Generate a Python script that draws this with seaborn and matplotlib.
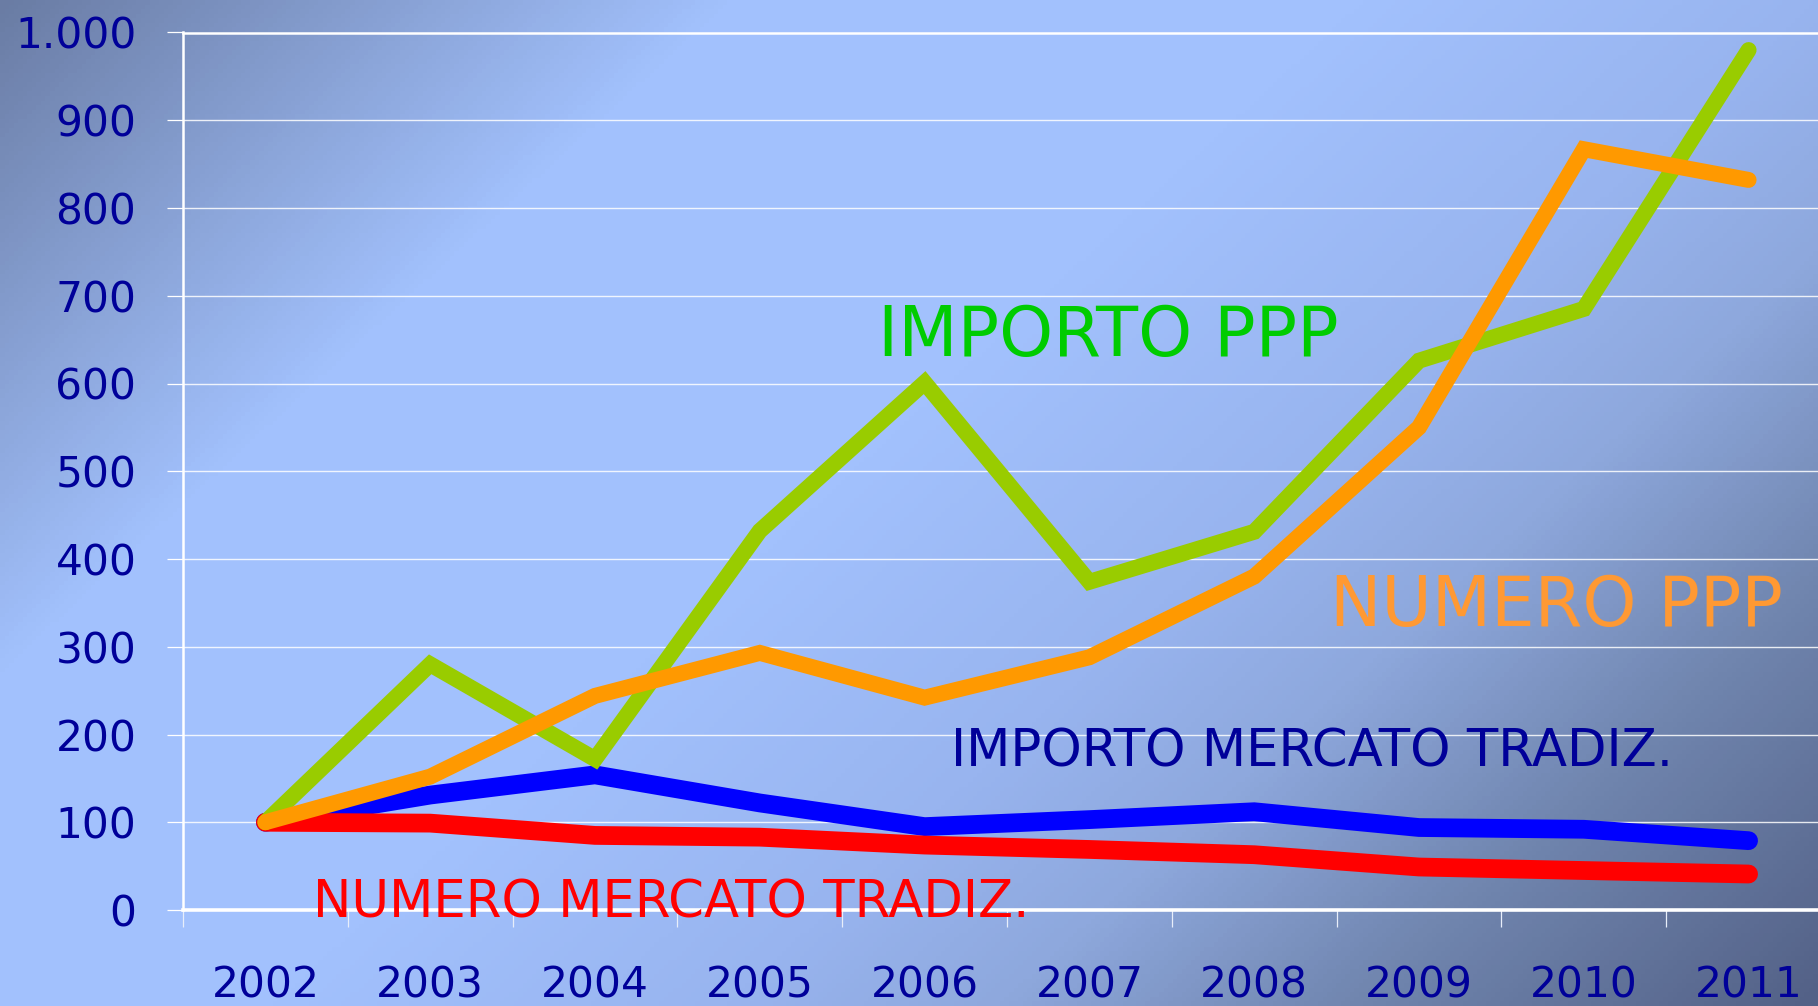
import numpy as np
import pandas as pd
import seaborn as sns
import matplotlib.pyplot as plt
from matplotlib.colors import LinearSegmentedColormap
from matplotlib.ticker import FuncFormatter, MultipleLocator, FixedLocator

# index numbers, 2002 = 100
years = [2002, 2003, 2004, 2005, 2006, 2007, 2008, 2009, 2010, 2011]
importo_ppp = [100, 280, 172, 432, 601, 374, 431, 626, 685, 980]
numero_ppp = [100, 152, 244, 293, 242, 288, 380, 550, 867, 832]
importo_trad = [100, 131, 154, 122, 95, 103, 112, 94, 92, 79]
numero_trad = [100, 99, 85, 83, 74, 69, 63, 49, 45, 41]

series_names = ["IMPORTO MERCATO TRADIZ.", "NUMERO MERCATO TRADIZ.", "IMPORTO PPP", "NUMERO PPP"]
line_colors = ["#0000ff", "#ff0000", "#99cc00", "#ff9900"]
label_colors = ["#000099", "#ff0000", "#00cc00", "#ff9933"]

d = pd.DataFrame({
    "year": years * 4,
    "value": importo_trad + numero_trad + importo_ppp + numero_ppp,
    "series": sum([[s] * len(years) for s in series_names], []),
})

sns.set_theme(style="white")
plt.rcParams["font.family"] = ["DejaVu Sans"]

fig = plt.figure(figsize=(18.18, 10.06), dpi=100)

# background gradient
bg = fig.add_axes([0, 0, 1, 1], zorder=-10)
gx, gy = np.meshgrid(np.linspace(0, 1, 400), np.linspace(0, 1, 220))
s = gx + 0.6 * gy
cmap = LinearSegmentedColormap.from_list("bg", [
    (0.0, "#6a7ca4"), (0.4 / 1.6, "#a2c1fd"), (0.75 / 1.6, "#a2c1fd"),
    (1.0 / 1.6, "#98b4ef"), (1.15 / 1.6, "#8ea8dd"), (1.35 / 1.6, "#7085ae"),
    (1.0, "#536187")])
bg.imshow(s / 1.6, cmap=cmap, vmin=0, vmax=1, aspect="auto", extent=[0, 1, 1, 0])
bg.set_axis_off()

ax = fig.add_axes([183 / 1818, 1 - 910 / 1006, 1648 / 1818, 877.5 / 1006])
ax.set_facecolor("none")

sns.lineplot(data=d, x="year", y="value", hue="series", hue_order=series_names,
             palette=line_colors, legend=False, ax=ax, sort=False,
             solid_capstyle="round", solid_joinstyle="miter")
for ln, lw in zip(ax.lines, [13.5, 13.5, 11.5, 11.5]):
    ln.set_linewidth(lw)

ax.set_xlim(2001.5, 2011.5)
ax.set_ylim(0, 1000)
ax.set_xlabel("")
ax.set_ylabel("")

ax.yaxis.set_major_locator(MultipleLocator(100))
ax.yaxis.set_major_formatter(FuncFormatter(lambda v, _: f"{int(v):,}".replace(",", ".")))
ax.xaxis.set_major_locator(FixedLocator(years))
ax.xaxis.set_minor_locator(FixedLocator([y - 0.5 for y in years]))
ax.xaxis.set_major_formatter(FuncFormatter(lambda v, _: f"{int(v)}"))

ax.grid(axis="y", color="white", linewidth=1.0, alpha=0.85)
ax.set_axisbelow(True)
for side in ["top", "left", "bottom"]:
    ax.spines[side].set_color("white")
ax.spines["top"].set_linewidth(1.8)
ax.spines["left"].set_linewidth(1.8)
ax.spines["bottom"].set_linewidth(2.6)
ax.spines["right"].set_visible(False)

ax.tick_params(axis="y", which="major", left=True, length=11.5, width=0.9, color="white",
               pad=22, labelsize=30.5, labelcolor="#000099")
ax.tick_params(axis="x", which="major", bottom=True, length=0, pad=39,
               labelsize=30.5, labelcolor="#000099")
ax.tick_params(axis="x", which="minor", bottom=True, length=12, width=0.9, color="#e8eefa")

# series labels
ax.text(2005.72, 631, "IMPORTO PPP", color=label_colors[2], fontsize=49.5, va="baseline")
ax.text(2008.46, 324, "NUMERO PPP", color=label_colors[3], fontsize=49.5, va="baseline")
ax.text(2006.16, 163, "IMPORTO MERCATO TRADIZ.", color=label_colors[0], fontsize=37, va="baseline")
ax.text(2002.29, -8, "NUMERO MERCATO TRADIZ.", color=label_colors[1], fontsize=37,
        va="baseline", zorder=5, clip_on=False)

fig.savefig("out.png", dpi=100)
